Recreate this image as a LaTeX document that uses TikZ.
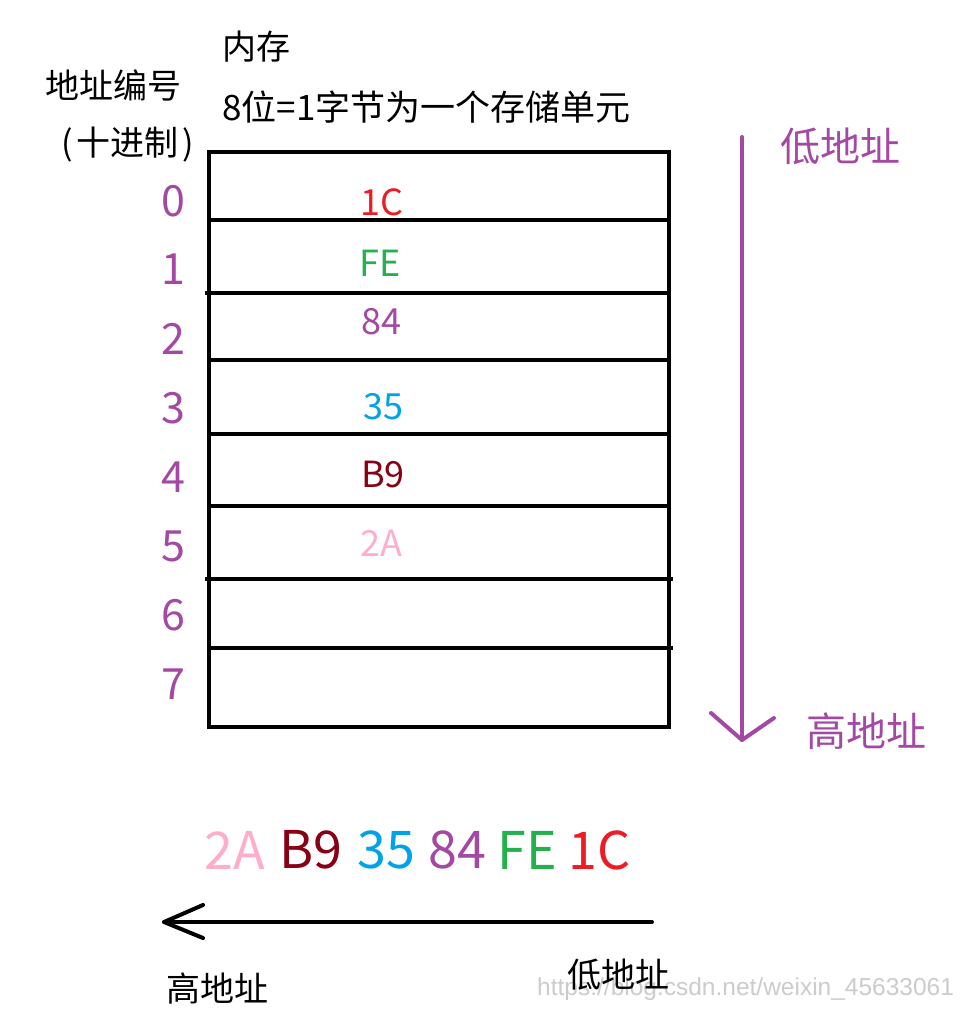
\documentclass[tikz,border=0pt]{standalone}
\usepackage{fontspec}
\setmainfont{Noto Sans CJK SC}
\newfontfamily\wmfont{Liberation Sans}
\definecolor{ppurple}{HTML}{A349A4}
\definecolor{pred}{HTML}{ED1C24}
\definecolor{pgreen}{HTML}{22B14C}
\definecolor{pblue}{HTML}{00A2E8}
\definecolor{pdarkred}{HTML}{880015}
\definecolor{ppink}{HTML}{FFAEC9}
\begin{document}
\begin{tikzpicture}[x=1pt,y=-1pt,
  lbl/.style={inner sep=0pt, anchor=center},
  blacktext/.style={lbl, font=\fontsize{34}{40}\selectfont},
  addr/.style={lbl, text=ppurple, font=\fontsize{43}{48}\selectfont},
  hexcell/.style={lbl, font=\fontsize{36}{40}\selectfont},
  hexrow/.style={lbl, font=\fontsize{52}{58}\selectfont},
  sidelbl/.style={lbl, text=ppurple, font=\fontsize{40}{46}\selectfont},
  gridline/.style={line width=4pt, black},
  parrow/.style={line width=4pt, ppurple, line cap=round, line join=round},
  barrow/.style={line width=4pt, black, line cap=round, line join=round}]
\useasboundingbox (0,0) rectangle (963,1014);
\fill[white] (0,0) rectangle (963,1014);

% memory table
\draw[gridline] (209,152) rectangle (669,727);
\draw[gridline] (209,220) -- (669,220);
\draw[gridline] (205,293) -- (669,293);
\draw[gridline] (209,360) -- (669,360);
\draw[gridline] (209,434) -- (669,434);
\draw[gridline] (209,506) -- (669,506);
\draw[gridline] (205,579) -- (673,579);
\draw[gridline] (209,648) -- (673,648);

% headings
\node[blacktext, anchor=west] (mem) at (222,47) {内存};
\node[blacktext, anchor=west, font=\fontsize{35}{40}\selectfont] (unit) at (222,107) {8位=1字节为一个存储单元};
\node[blacktext, anchor=west] (addrno) at (45,85) {地址编号};
\node[blacktext, anchor=west] (dec) at (61,145) {(\hspace{4pt}十进制\hspace{4pt})};

% addresses
\node[addr] (a0) at (173,201) {0};
\node[addr] (a1) at (173,269) {1};
\node[addr] (a2) at (173,339) {2};
\node[addr] (a3) at (173,408) {3};
\node[addr] (a4) at (173,477) {4};
\node[addr] (a5) at (173,546) {5};
\node[addr] (a6) at (173,615) {6};
\node[addr] (a7) at (173,684) {7};

% cell contents
\node[hexcell, text=pred] (c0) at (382,202) {1C};
\node[hexcell, text=pgreen] (c1) at (380,263) {FE};
\node[hexcell, text=ppurple] (c2) at (381,322) {84};
\node[hexcell, text=pblue] (c3) at (383,407) {35};
\node[hexcell, text=pdarkred] (c4) at (383,475) {B9};
\node[hexcell, text=ppink] (c5) at (381,543) {2A};

% vertical arrow
\coordinate (vtop) at (742,137);
\coordinate (vbot) at (742,740);
\coordinate (vl) at (711,713);
\coordinate (vr) at (774,718);
\draw[parrow] (vtop) -- (vbot);
\draw[parrow] (vl) -- (vbot) -- (vr);
\node[sidelbl] (low1) at (840,146) {低地址};
\node[sidelbl] (high1) at (866,731) {高地址};

% bottom row
\node[hexrow, text=ppink] (r5) at (235,850) {2A};
\node[hexrow, text=pdarkred] (r4) at (311,850) {B9};
\node[hexrow, text=pblue] (r3) at (386,850) {35};
\node[hexrow, text=ppurple] (r2) at (457,850) {84};
\node[hexrow, text=pgreen] (r1) at (527,850) {FE};
\node[hexrow, text=pred] (r0) at (600,850) {1C};

% horizontal arrow
\coordinate (hr) at (652,922);
\coordinate (hl) at (164,922);
\coordinate (hu) at (203,905);
\coordinate (hd) at (203,938);
\draw[barrow] (hr) -- (hl);
\draw[barrow] (hu) -- (hl) -- (hd);
\node[blacktext] (high2) at (217,988) {高地址};

% watermark (behind the label, as in the reference)
\node[lbl, anchor=west, text=black!20, font=\wmfont\fontsize{24.5}{28}\selectfont] (wm) at (537,989) {https://blog.csdn.net/weixin\_45633061};
\node[blacktext] (low2) at (618,975) {低地址};
\end{tikzpicture}
\end{document}
